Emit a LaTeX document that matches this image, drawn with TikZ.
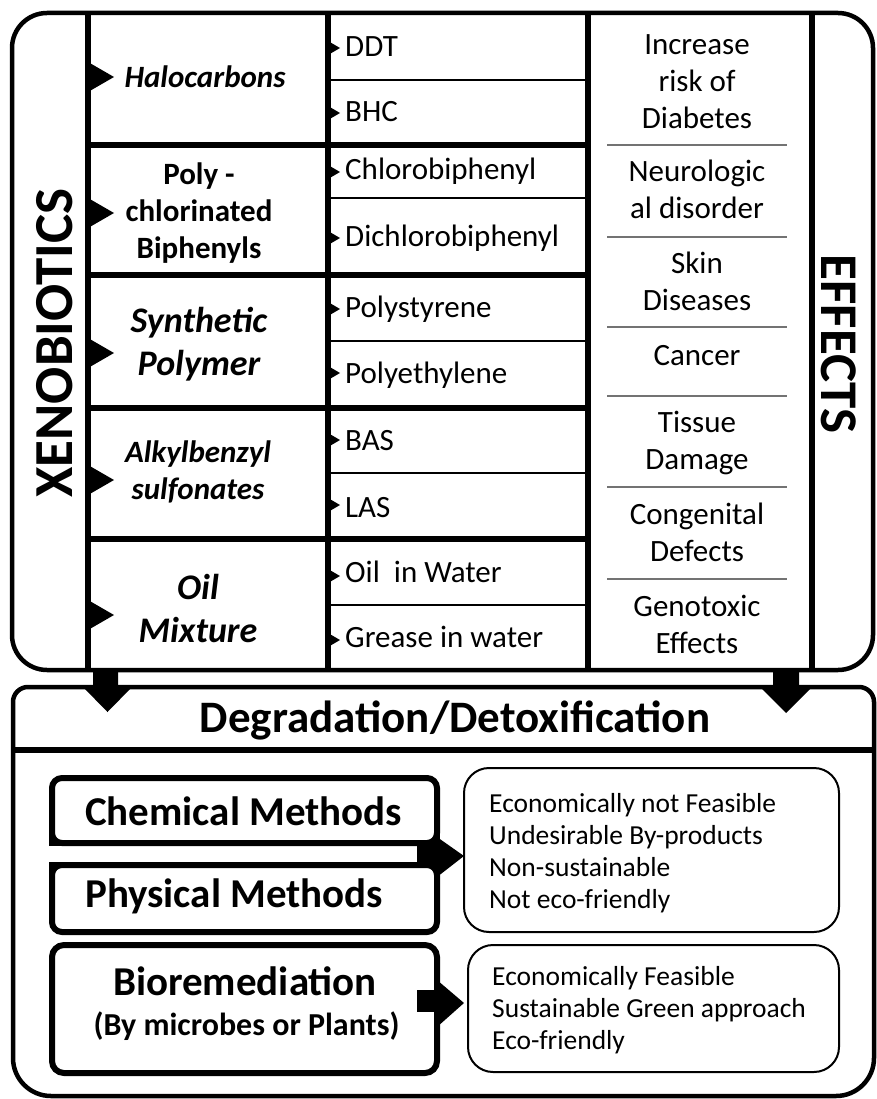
\documentclass[tikz,border=0pt]{standalone}
\usepackage{fontspec}
\setmainfont{Carlito}
\tikzset{
  frame/.style={line width=4.5pt},
  thickline/.style={line width=5.5pt},
  thinline/.style={line width=1.6pt},
  greyline/.style={line width=1.6pt, draw=black!55},
  mbox/.style={line width=6pt},
  infobox/.style={line width=2pt, rounded corners=25pt},
  item/.style={font=\fontsize{31}{37}\selectfont, anchor=base west, inner sep=0pt},
  effect/.style={font=\fontsize{31}{37}\selectfont, align=center, inner sep=0pt},
  cat/.style={font=\bfseries\fontsize{31}{37}\selectfont, align=center, inner sep=0pt},
  catit/.style={font=\bfseries\itshape\fontsize{31}{37}\selectfont, align=center, inner sep=0pt},
  catbig/.style={font=\bfseries\itshape\fontsize{36}{43}\selectfont, align=center, inner sep=0pt},
  method/.style={font=\bfseries\fontsize{41}{46}\selectfont, inner sep=0pt},
  info/.style={font=\fontsize{27.5}{32}\selectfont, align=left, anchor=west, inner sep=0pt},
  vtitle/.style={font=\bfseries\fontsize{55}{60}\selectfont, inner sep=0pt}
}
\begin{document}
\begin{tikzpicture}[x=1pt,y=-1pt]
\useasboundingbox (0,0) rectangle (876,1099);

% ---------- top table ----------
\draw[frame, rounded corners=35pt] (12,13) rectangle (873,670);
\foreach \x in {88,328,588,812} \draw[thickline] (\x,13) -- (\x,670);
\foreach \y in {145,275,408,539} \draw[thickline] (88,\y) -- (588,\y);
\foreach \y in {80,198,341,473,605} \draw[thinline] (328,\y) -- (588,\y);
\foreach \y in {145,237,327,396,487,579} \draw[greyline] (607,\y) -- (787,\y);

% big pointers
\foreach \y in {77,213,353,480,615} \fill (88,\y-15) -- (114,\y) -- (88,\y+15) -- cycle;
% small pointers
\foreach \y in {48,113,172,238,309,373,440,505,576,640} \fill (328,\y-7) -- (340,\y) -- (328,\y+7) -- cycle;

\node[vtitle, rotate=90] (xeno) at (55,343) {XENOBIOTICS};
\node[vtitle, rotate=-90, font=\bfseries\fontsize{53}{58}\selectfont] (effects) at (839,344) {EFFECTS};

\node[catit, anchor=base] (halo) at (205,88) {Halocarbons};
\node[cat] (pcb) at (199,213) {Poly -\\chlorinated\\Biphenyls};
\node[catbig] (synth) at (199,344) {Synthetic\\Polymer};
\node[catit] (alkyl) at (198,472) {Alkylbenzyl\\sulfonates};
\node[catbig] (oil) at (198,608) {Oil\\Mixture};

\node[item] (ddt) at (345,57) {DDT};
\node[item] (bhc) at (345,122) {BHC};
\node[item] (cbp) at (345,180) {Chlorobiphenyl};
\node[item] (dcbp) at (345,247) {Dichlorobiphenyl};
\node[item] (ps) at (345,317) {Polystyrene};
\node[item] (pe) at (345,383) {Polyethylene};
\node[item] (bas) at (345,450) {BAS};
\node[item] (las) at (345,517) {LAS};
\node[item] (oiw) at (345,582) {Oil\ \ in Water};
\node[item] (giw) at (345,647) {Grease in water};

\node[effect] (diab) at (697,82) {Increase\\risk of\\Diabetes};
\node[effect] (neuro) at (697,189) {Neurologic\\al disorder};
\node[effect] (skin) at (697,281) {Skin\\Diseases};
\node[effect] (cancer) at (697,356) {Cancer};
\node[effect] (tissue) at (697,443) {Tissue\\Damage};
\node[effect] (cong) at (697,532) {Congenital\\Defects};
\node[effect] (geno) at (697,624) {Genotoxic\\Effects};

% ---------- bottom panel ----------
\draw[frame] (874,800) [rounded corners=38pt] -- (874,1096) -- (13,1096) -- (13,800)
  [rounded corners=15pt] -- (13,687) -- (874,687) -- cycle;
\draw[thickline] (13,750) -- (874,750);

% down arrows
\fill (93,668) -- (118,668) -- (118,687) -- (132,687) -- (107.5,712) -- (83,687) -- (93,687) -- cycle;
\fill (773,668) -- (799,668) -- (799,687) -- (812,687) -- (786,713) -- (760,687) -- (773,687) -- cycle;

\node[font=\bfseries\fontsize{45}{50}\selectfont, anchor=base, inner sep=0pt] (deg) at (455,732) {Degradation/Detoxification};

% method boxes
\draw[mbox, rounded corners=10pt] (52,778) rectangle (437,843);
\draw[mbox] (52,820) -- (52,843) -- (437,843) -- (437,820);
\draw[mbox, rounded corners=10pt] (52,865) rectangle (437,932);
\draw[mbox] (52,890) -- (52,865) -- (437,865) -- (437,890);
\fill (417,843) rectangle (437,865);
\fill (437,837) -- (464,856) -- (437,877) -- cycle;

\draw[mbox, rounded corners=12pt] (52,945) rectangle (437,1073);
\fill (417,990) rectangle (437,1012);
\fill (437,980) -- (464,1003) -- (437,1027) -- cycle;

\node[method, anchor=base west] (chem) at (85,825) {Chemical Methods};
\node[method, anchor=base west] (phys) at (85,907) {Physical Methods};
\node[method, anchor=base] (bio) at (245,995) {Bioremediation};
\node[font=\bfseries\fontsize{32}{36}\selectfont, anchor=base, inner sep=0pt] (biosub) at (246.5,1035) {(By microbes or Plants)};

% outcome boxes
\draw[infobox] (464,768) rectangle (839,932);
\draw[infobox] (468,945) rectangle (839,1072);
\node[info] (cons) at (489,853) {Economically not Feasible\\Undesirable By-products\\Non-sustainable\\Not eco-friendly};
\node[info] (pros) at (492,1010) {Economically Feasible\\Sustainable Green approach\\Eco-friendly};
\end{tikzpicture}
\end{document}
